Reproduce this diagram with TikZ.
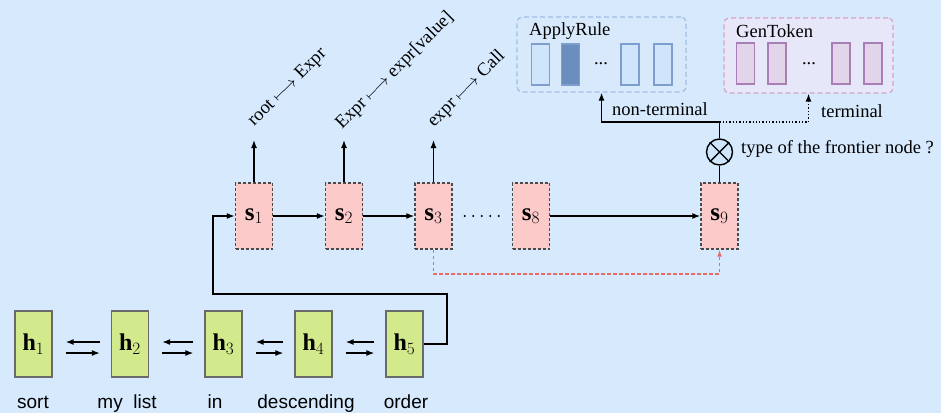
\documentclass[tikz,border=0pt]{standalone}
\usepackage{fontspec}
\setmainfont{Liberation Serif}
\newfontfamily\sansf{Liberation Sans}
\usetikzlibrary{arrows.meta}
\definecolor{bg}{HTML}{D6E9FD}
\definecolor{hfill}{HTML}{D2EA8C}
\definecolor{hdraw}{HTML}{6A6A6A}
\definecolor{sfill}{HTML}{FDCACA}
\definecolor{sdraw}{HTML}{4A4A4A}
\definecolor{reddash}{HTML}{EA6B66}
\definecolor{arfill}{HTML}{D9E9FC}
\definecolor{ardraw}{HTML}{A3BDE3}
\definecolor{gtfill}{HTML}{E7E7FA}
\definecolor{gtdraw}{HTML}{D6A3C6}
\definecolor{bluebox}{HTML}{CFE5FC}
\definecolor{blueline}{HTML}{7E9ECF}
\definecolor{bluedark}{HTML}{6C8EBF}
\definecolor{purpbox}{HTML}{E3D5E9}
\definecolor{purpline}{HTML}{A77FB5}
\tikzset{
  hbox/.style={draw=hdraw, fill=hfill, line width=1.2pt, minimum width=37pt, minimum height=66pt, inner sep=0pt, font=\fontsize{24}{26}\selectfont},
  sbox/.style={draw=sdraw, fill=sfill, line width=1.3pt, dash pattern=on 3pt off 2pt, minimum width=37pt, minimum height=66pt, inner sep=0pt, font=\fontsize{25}{27}\selectfont},
  arr/.style={line width=1.4pt, -{Latex[length=8pt,width=6pt]}},
  plain/.style={line width=1.4pt},
  word/.style={font=\sansf\fontsize{19}{21}\selectfont, inner sep=0pt, anchor=base},
  lbl/.style={font=\fontsize{18.5}{20}\selectfont, inner sep=0pt},
  rule/.style={font=\fontsize{18.5}{20}\selectfont, inner sep=0pt, rotate=45, anchor=base west},
  smallrect/.style={minimum width=18pt, minimum height=41pt, inner sep=0pt, line width=1.3pt},
}
\begin{document}
\begin{tikzpicture}[x=1pt,y=-1pt]
\fill[bg] (0,0) rectangle (941,413);
\useasboundingbox (0,0) rectangle (941,413);

% encoder
\node[hbox] (h1) at (33.5,344) {$\mathbf{h}_1$};
\node[hbox] (h2) at (130,344) {$\mathbf{h}_2$};
\node[hbox] (h3) at (223.5,344) {$\mathbf{h}_3$};
\node[hbox] (h4) at (313.5,344) {$\mathbf{h}_4$};
\node[hbox] (h5) at (404.5,344) {$\mathbf{h}_5$};

\foreach \a/\b in {h1/h2,h2/h3,h3/h4,h4/h5}{
  \draw[arr] ([xshift=-11pt,yshift=2pt]\b.west) -- ([xshift=13pt,yshift=2pt]\a.east);
  \draw[arr] ([xshift=13pt,yshift=-9pt]\a.east) -- ([xshift=-11pt,yshift=-9pt]\b.west);
}

\node[word] (w1) at (33,408.5) {sort};
\node[word] (w2) at (127,408.5) {my\ \ list};
\node[word] (w3) at (215,408.5) {in};
\node[word] (w4) at (306,408.5) {descending};
\node[word] (w5) at (406,408.5) {order};

% decoder
\node[sbox] (s1) at (254,216) {$\mathbf{s}_1$};
\node[sbox] (s2) at (344,216) {$\mathbf{s}_2$};
\node[sbox] (s3) at (433.5,216) {$\mathbf{s}_3$};
\node[sbox] (s8) at (531,216) {$\mathbf{s}_8$};
\node[sbox] (s9) at (719.5,216) {$\mathbf{s}_9$};

\coordinate (c1) at (447,294);
\coordinate (c2) at (213,294);
\draw[arr] (h5.east) -| (c1) -- (c2) |- (s1.west);
\draw[arr] (s1) -- (s2);
\draw[arr] (s2) -- (s3);
\draw[line width=2.2pt, line cap=round, dash pattern=on 0pt off 8.5pt, shorten <=12pt, shorten >=8pt] (s3.east) -- (s8.west);
\draw[arr] (s8) -- (s9);

\coordinate (u1) at (254,140);
\coordinate (u2) at (344,140);
\coordinate (u3) at (433.5,140);
\draw[arr] (s1.north) -- (u1);
\draw[arr] (s2.north) -- (u2);
\draw[arr] (s3.north) -- (u3);
\node[rule] (r1) at (254,127) {root $\longmapsto$ Expr};
\node[rule] (r2) at (342,130) {Expr $\longmapsto$ expr[value]};
\node[rule] (r3) at (434,128) {expr $\longmapsto$ Call};

\coordinate (d1) at (433.5,274);
\draw[reddash, line width=1.4pt, dash pattern=on 3.5pt off 2.5pt, -{Latex[length=7pt,width=5pt]}] (s3.south) -- (d1) -| (s9.south);

% frontier
\node[circle, draw, line width=1.4pt, fill=bluebox, minimum size=26pt, inner sep=0pt] (ot) at (719.5,152) {};
\draw[line width=1.4pt] (ot.north west) -- (ot.south east) (ot.north east) -- (ot.south west);
\draw[plain] (s9.north) -- (ot.south);
\coordinate (j) at (719.5,122);
\draw[plain] (ot.north) -- (j);
\node[lbl, anchor=west] (q) at (741,149) {type of the frontier node ?};

% output boxes
\node[draw=ardraw, fill=arfill, line width=1.2pt, dash pattern=on 5pt off 3pt, rounded corners=5pt, minimum width=169pt, minimum height=75pt] (ar) at (601.5,54.5) {};
\node[draw=gtdraw, fill=gtfill, line width=1.2pt, dash pattern=on 5pt off 3pt, rounded corners=5pt, minimum width=169pt, minimum height=75pt] (gt) at (808.5,55.5) {};
\node[lbl, anchor=west] (art) at (529,31) {ApplyRule};
\node[lbl, anchor=west] (gtt) at (736,31) {GenToken};

\node[smallrect, draw=blueline, fill=bluebox] (a1) at (540.5,64.5) {};
\node[smallrect, draw=blueline, fill=bluedark] (a2) at (570.5,64.5) {};
\node[lbl] (ad) at (601,64) {...};
\node[smallrect, draw=blueline, fill=bluebox] (a3) at (630,64.5) {};
\node[smallrect, draw=blueline, fill=bluebox] (a4) at (663,64.5) {};

\node[smallrect, draw=purpline, fill=purpbox] (g1) at (745.5,63.5) {};
\node[smallrect, draw=purpline, fill=purpbox] (g2) at (777,63.5) {};
\node[lbl] (gd) at (809,64) {...};
\node[smallrect, draw=purpline, fill=purpbox] (g3) at (841,63.5) {};
\node[smallrect, draw=purpline, fill=purpbox] (g4) at (873,63.5) {};

\draw[arr] (j) -| (ar.south);
\draw[line width=1.3pt, dotted, -{Latex[length=8pt,width=6pt]}] (j) -| (gt.south);
\node[lbl, anchor=west] (nt) at (612,109) {non-terminal};
\node[lbl, anchor=west] (tt) at (821,111) {terminal};
\end{tikzpicture}
\end{document}
